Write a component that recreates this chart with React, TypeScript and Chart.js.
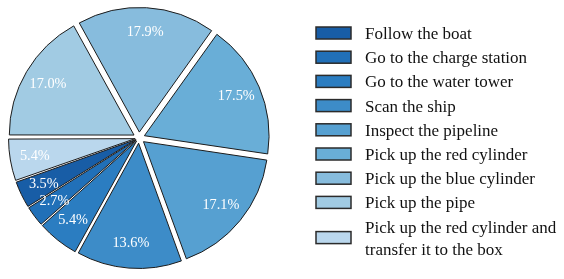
import React, { useEffect, useRef } from "react";
import { Chart, registerables } from "chart.js";

Chart.register(...registerables);

// ---- data (legend order) ----
const categories: string[] = [
  "Follow the boat",
  "Go to the charge station",
  "Go to the water tower",
  "Scan the ship",
  "Inspect the pipeline",
  "Pick up the red cylinder",
  "Pick up the blue cylinder",
  "Pick up the pipe",
  "Pick up the red cylinder and transfer it to the box",
];
const legendLines: string[][] = [
  ["Follow the boat"],
  ["Go to the charge station"],
  ["Go to the water tower"],
  ["Scan the ship"],
  ["Inspect the pipeline"],
  ["Pick up the red cylinder"],
  ["Pick up the blue cylinder"],
  ["Pick up the pipe"],
  ["Pick up the red cylinder and", "transfer it to the box"],
];
const shares: number[] = [3.5, 2.7, 5.4, 13.6, 17.1, 17.5, 17.9, 17.0, 5.4];
const colors: string[] = [
  "#185da6",
  "#2170b8",
  "#2b7dc1",
  "#3d8cc8",
  "#56a0d1",
  "#69aed7",
  "#87bcdd",
  "#a1cbe3",
  "#bad7ed",
];

const FONT = '"Liberation Serif", "Times New Roman", serif';
const EXPLODE = 6.5; // radial shift of each slice in px
const RADIUS = 124;

export default function App() {
  const ref = useRef<HTMLCanvasElement | null>(null);

  useEffect(() => {
    if (!ref.current) return;
    const total = shares.reduce((a, b) => a + b, 0);
    // chart draws clockwise; reference runs counter-clockwise in legend order
    const order = shares.map((_, i) => shares.length - 1 - i);
    const data = order.map((i) => shares[i]);
    const bg = order.map((i) => colors[i]);
    const labels = order.map((i) => categories[i]);
    const offsets = data.map((v) => {
      const circ = (v / total) * Math.PI * 2;
      return (4 * EXPLODE) / (2 - Math.sin(Math.min(Math.PI, circ)));
    });
    const rotation = 270 - (shares[shares.length - 1] / total) * 360;

    const labelPlugin = {
      id: "sliceLabels",
      afterDatasetsDraw(chart: any) {
        const ctx = chart.ctx;
        const meta = chart.getDatasetMeta(0);
        ctx.save();
        ctx.font = `14.3px ${FONT}`;
        ctx.fillStyle = "#ffffff";
        ctx.textAlign = "center";
        ctx.textBaseline = "middle";
        meta.data.forEach((arc: any, i: number) => {
          const p = arc.getProps(["startAngle", "endAngle", "x", "y", "outerRadius"], true);
          const mid = (p.startAngle + p.endAngle) / 2;
          const r = p.outerRadius * 0.8 + EXPLODE;
          ctx.fillText(data[i].toFixed(1) + "%", p.x + Math.cos(mid) * r, p.y + Math.sin(mid) * r);
        });
        ctx.restore();
      },
    };

    const legendPlugin = {
      id: "sideLegend",
      afterDraw(chart: any) {
        const ctx = chart.ctx;
        ctx.save();
        ctx.font = `17px ${FONT}`;
        ctx.textAlign = "left";
        ctx.textBaseline = "alphabetic";
        const boxX = 316;
        const boxW = 35;
        const boxH = 12;
        const textX = 365;
        let cy = 33;
        legendLines.forEach((lines, i) => {
          if (lines.length > 1) cy += 11;
          ctx.fillStyle = colors[i];
          ctx.fillRect(boxX, cy - boxH / 2, boxW, boxH);
          ctx.strokeStyle = "#2b2b2b";
          ctx.lineWidth = 1.5;
          ctx.strokeRect(boxX, cy - boxH / 2, boxW, boxH);
          ctx.fillStyle = "#111111";
          const lh = 22;
          const startY = cy - ((lines.length - 1) * lh) / 2;
          lines.forEach((t, j) => {
            ctx.fillText(t, textX, startY + j * lh + 6);
          });
          cy += 24.2;
        });
        ctx.restore();
      },
    };

    const chart = new Chart(ref.current, {
      type: "pie",
      data: {
        labels,
        datasets: [
          {
            data,
            backgroundColor: bg,
            borderColor: "#1c1c1c",
            borderWidth: 1,
            borderJoinStyle: "miter",
            offset: offsets,
            hoverOffset: 0,
          } as any,
        ],
      },
      options: {
        responsive: false,
        animation: false,
        devicePixelRatio: 1,
        rotation,
        radius: RADIUS,
        layout: { padding: { left: 0, top: 0, right: 286, bottom: 3 } },
        plugins: {
          legend: { display: false },
          tooltip: { enabled: false },
        },
        events: [],
      } as any,
      plugins: [labelPlugin, legendPlugin],
    });
    return () => chart.destroy();
  }, []);

  return (
    <div
      style={{
        position: "fixed",
        left: 0,
        top: 0,
        width: 564,
        height: 279,
        background: "#ffffff",
      }}
    >
      <canvas ref={ref} width={564} height={279} style={{ width: 564, height: 279, display: "block" }} />
    </div>
  );
}
